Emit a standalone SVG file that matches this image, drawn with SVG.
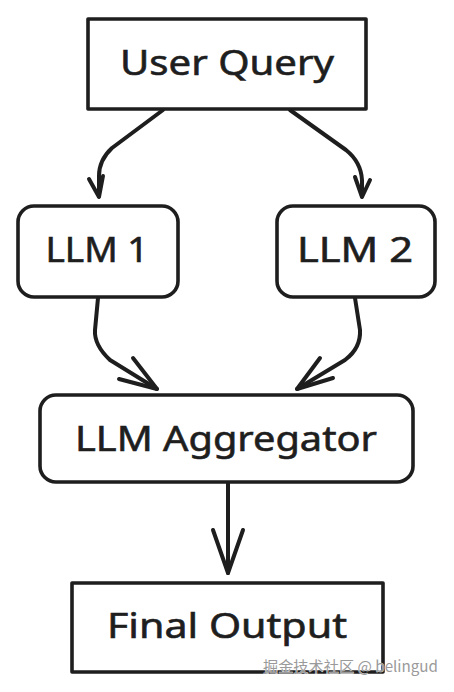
<svg xmlns="http://www.w3.org/2000/svg" width="454" height="692" viewBox="0 0 454 692">
<style>
.box{fill:#fff;stroke:#1e1e1e;stroke-width:3.6;stroke-linejoin:round}
.lbl{font-family:"Noto Sans","Liberation Sans",sans-serif;font-size:34px;fill:#1e1e1e;stroke:#1e1e1e;stroke-width:0.6;text-anchor:middle}
.wire{fill:none;stroke:#1e1e1e;stroke-width:4;stroke-linecap:round;stroke-linejoin:round}
.wm{font-family:"Noto Sans CJK SC","Noto Sans",sans-serif;font-size:15px;fill:#9a9a9a;stroke:#fff;stroke-width:0.6;paint-order:stroke}
</style>
<rect width="454" height="692" fill="#fff"/>
<g id="connectors">
<path class="wire" d="M163,110 L112,148 Q99,160 99,176 L99,196"/>
<path class="wire" d="M89,179 L99,197 L103,176"/>
<path class="wire" d="M290,110 L346,150 Q361,162 362,180 L362,196"/>
<path class="wire" d="M355,177 L362,197 L370,180"/>
<path class="wire" d="M98,298 L95,330 Q94,345 110,360 L157,389"/>
<path class="wire" d="M133,358 L157,389 L119,379"/>
<path class="wire" d="M355,298 L360,330 Q361,348 345,360 L297,389"/>
<path class="wire" d="M320,358 L297,389 L333,378"/>
<path class="wire" d="M228,483 L228,573"/>
<path class="wire" d="M213,530 L228,573 L243,530"/>
</g>
<g id="user-query">
<rect class="box" x="88" y="19" width="278" height="90"/>
<text class="lbl" x="227" y="75" textLength="214" lengthAdjust="spacingAndGlyphs">User Query</text>
</g>
<g id="llm1">
<rect class="box" x="18" y="206" width="160" height="91" rx="16"/>
<text class="lbl" x="97" y="262" textLength="103" lengthAdjust="spacingAndGlyphs">LLM 1</text>
</g>
<g id="llm2">
<rect class="box" x="277" y="206" width="158" height="91" rx="16"/>
<text class="lbl" x="355" y="262" textLength="116" lengthAdjust="spacingAndGlyphs">LLM 2</text>
</g>
<g id="aggregator">
<rect class="box" x="40" y="395" width="373" height="87" rx="16"/>
<text class="lbl" x="226" y="451" textLength="302" lengthAdjust="spacingAndGlyphs">LLM Aggregator</text>
</g>
<g id="final-output">
<rect class="box" x="72" y="583" width="311" height="89"/>
<text class="lbl" x="227" y="638" textLength="240" lengthAdjust="spacingAndGlyphs">Final Output</text>
</g>
<text class="wm" x="263" y="672" textLength="175" lengthAdjust="spacingAndGlyphs">掘金技术社区 @ belingud</text>
</svg>
